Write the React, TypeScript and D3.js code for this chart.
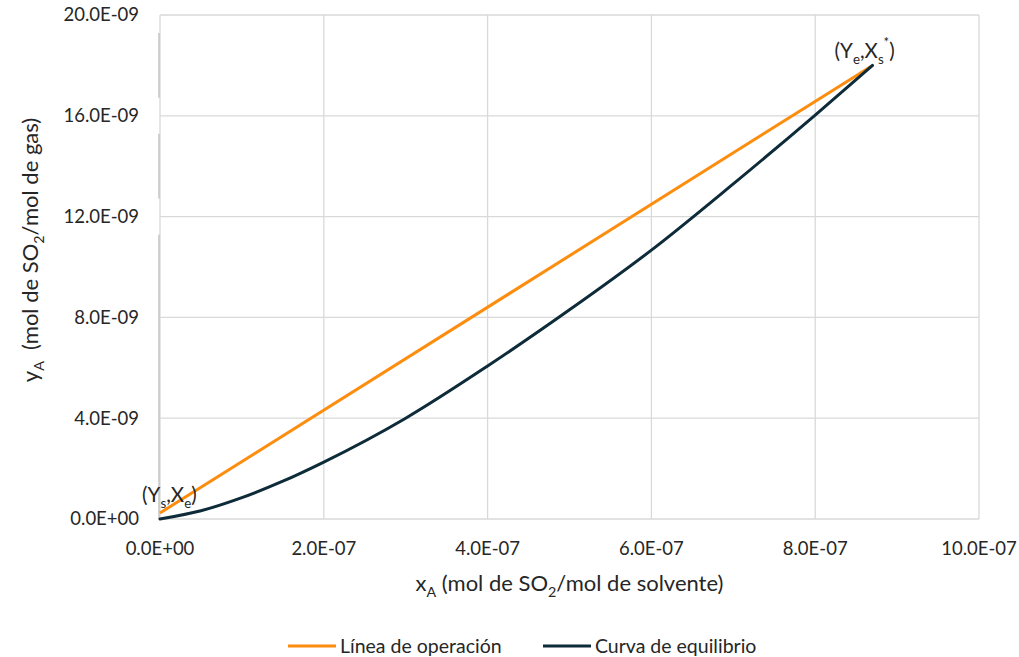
import { useEffect, useRef } from "react";
import * as d3 from "d3";

// operating line (two end points)
const opX = [0, 8.7e-7];
const opY = [0.24e-9, 18.0e-9];

// equilibrium curve
const eqX = [0, 0.5e-7, 1e-7, 1.5e-7, 2e-7, 3e-7, 4e-7, 5e-7, 6e-7, 7e-7, 8e-7, 8.7e-7];
const eqY = [0, 0.33e-9, 0.85e-9, 1.5e-9, 2.26e-9, 4.0e-9, 6.07e-9, 8.3e-9, 10.67e-9, 13.3e-9, 16.03e-9, 18.0e-9];

const xTicks = [0, 2e-7, 4e-7, 6e-7, 8e-7, 10e-7];
const xTickLabels = ["0.0E+00", "2.0E-07", "4.0E-07", "6.0E-07", "8.0E-07", "10.0E-07"];
const yTicks = [0, 4e-9, 8e-9, 12e-9, 16e-9, 20e-9];
const yTickLabels = ["0.0E+00", "4.0E-09", "8.0E-09", "12.0E-09", "16.0E-09", "20.0E-09"];

const seriesNames = ["Línea de operación", "Curva de equilibrio"];
const seriesColors = ["#fd8d0e", "#0d2b38"];

const FONT = "Lato, 'Open Sans', sans-serif";
const TEXT = "#262626";

type Pt = { x: number; y: number };
type TextSel = d3.Selection<SVGTextElement, unknown, null, undefined>;

// append runs of text, with subscript / superscript parts
const rich = (t: TextSel, parts: [string, "n" | "sub" | "sup"][], size: number) => {
  const small = size * 0.65;
  const shift = size * 0.28;
  const supShift = size * 0.55;
  let offset = 0;
  parts.forEach(([s, kind]) => {
    const ts = t.append("tspan").text(s);
    const target = kind === "sub" ? shift : kind === "sup" ? -supShift : 0;
    ts.attr("dy", target - offset);
    if (kind !== "n") ts.attr("font-size", small);
    offset = target;
  });
};

const App = () => {
  const svgRef = useRef<SVGSVGElement | null>(null);

  useEffect(() => {
    if (!svgRef.current) return;
    const width = 1019;
    const height = 657;
    const margin = { top: 15, right: 40, bottom: 138, left: 160 };

    const svg = d3.select(svgRef.current);
    svg.selectAll("*").remove();
    svg.attr("width", width).attr("height", height).attr("font-family", FONT);

    const x = d3.scaleLinear().domain([0, 10e-7]).range([margin.left, width - margin.right]);
    const y = d3.scaleLinear().domain([0, 20e-9]).range([height - margin.bottom, margin.top]);

    // grid
    const grid = svg.append("g");
    grid
      .selectAll("line.v")
      .data(xTicks)
      .join("line")
      .attr("x1", (d) => x(d))
      .attr("x2", (d) => x(d))
      .attr("y1", y(20e-9))
      .attr("y2", y(0))
      .attr("stroke", "#d9d9d9")
      .attr("stroke-width", 1.3);
    grid
      .selectAll("line.h")
      .data(yTicks)
      .join("line")
      .attr("x1", x(0))
      .attr("x2", x(10e-7))
      .attr("y1", (d) => y(d))
      .attr("y2", (d) => y(d))
      .attr("stroke", "#d9d9d9")
      .attr("stroke-width", 1.3);

    // vertical axis line, partly hidden by the wider tick-label boxes
    svg
      .append("line")
      .attr("x1", x(0) - 1)
      .attr("x2", x(0) - 1)
      .attr("y1", y(20e-9))
      .attr("y2", y(0))
      .attr("stroke", "#c4c4c4")
      .attr("stroke-width", 1.5);
    svg
      .append("g")
      .selectAll("rect")
      .data(yTicks.filter((_, i) => yTickLabels[i].length >= 8))
      .join("rect")
      .attr("x", x(0) - 4)
      .attr("width", 3.5)
      .attr("y", (d) => y(d) - 18)
      .attr("height", 36)
      .attr("fill", "#ffffff");

    // tick labels
    svg
      .append("g")
      .selectAll("text")
      .data(yTicks)
      .join("text")
      .attr("x", x(0) - 21)
      .attr("y", (d) => y(d))
      .attr("dy", "0.35em")
      .attr("text-anchor", "end")
      .attr("font-size", 18.5)
      .attr("fill", TEXT)
      .text((_, i) => yTickLabels[i]);
    svg
      .append("g")
      .selectAll("text")
      .data(xTicks)
      .join("text")
      .attr("x", (d) => x(d))
      .attr("y", y(0) + 36)
      .attr("text-anchor", "middle")
      .attr("font-size", 18.5)
      .attr("fill", TEXT)
      .text((_, i) => xTickLabels[i]);

    // lines
    const line = d3
      .line<Pt>()
      .x((d) => x(d.x))
      .y((d) => y(d.y));
    const opPts = opX.map((v, i) => ({ x: v, y: opY[i] }));
    const eqPts = eqX.map((v, i) => ({ x: v, y: eqY[i] }));
    svg
      .append("path")
      .datum(opPts)
      .attr("fill", "none")
      .attr("stroke", seriesColors[0])
      .attr("stroke-width", 3)
      .attr("d", line);
    svg
      .append("path")
      .datum(eqPts)
      .attr("fill", "none")
      .attr("stroke", seriesColors[1])
      .attr("stroke-width", 3)
      .attr("stroke-linecap", "round")
      .attr("d", line.curve(d3.curveMonotoneX));

    // point annotations
    const a1 = svg
      .append("text")
      .attr("x", x(0) - 18)
      .attr("y", y(opY[0]) - 11)
      .attr("font-size", 20.5)
      .attr("fill", TEXT);
    rich(a1, [["(Y", "n"], ["s", "sub"], [",X", "n"], ["e", "sub"], [")", "n"]], 20.5);

    const a2 = svg
      .append("text")
      .attr("x", x(opX[1]) - 38)
      .attr("y", y(opY[1]) - 7)
      .attr("font-size", 20.5)
      .attr("fill", TEXT);
    rich(a2, [["(Y", "n"], ["e", "sub"], [",X", "n"], ["s", "sub"], ["*", "sup"], [")", "n"]], 20.5);

    // axis titles
    const xt = svg
      .append("text")
      .attr("x", (x(0) + x(10e-7)) / 2)
      .attr("y", y(0) + 72)
      .attr("text-anchor", "middle")
      .attr("font-size", 22)
      .attr("fill", TEXT);
    rich(xt, [["x", "n"], ["A", "sub"], [" (mol de SO", "n"], ["2", "sub"], ["/mol de solvente)", "n"]], 22);

    const yt = svg
      .append("text")
      .attr("transform", `translate(38, 250) rotate(-90)`)
      .attr("text-anchor", "middle")
      .attr("font-size", 22)
      .attr("fill", TEXT)
      .style("white-space", "pre");
    rich(yt, [["y", "n"], ["A", "sub"], ["  (mol de SO", "n"], ["2", "sub"], ["/mol de gas)", "n"]], 22);

    // legend
    const legendX = [288, 543];
    const legend = svg.append("g").attr("transform", `translate(0, 646)`);
    seriesNames.forEach((name, i) => {
      legend
        .append("line")
        .attr("x1", legendX[i])
        .attr("x2", legendX[i] + 48)
        .attr("y1", 0)
        .attr("y2", 0)
        .attr("stroke", seriesColors[i])
        .attr("stroke-width", 3);
      legend
        .append("text")
        .attr("x", legendX[i] + 52)
        .attr("y", 0)
        .attr("dy", "0.35em")
        .attr("font-size", 19.5)
        .attr("fill", TEXT)
        .text(name);
    });
  }, []);

  return <svg ref={svgRef} style={{ position: "absolute", left: 0, top: 0, background: "#fff" }} />;
};

export default App;
